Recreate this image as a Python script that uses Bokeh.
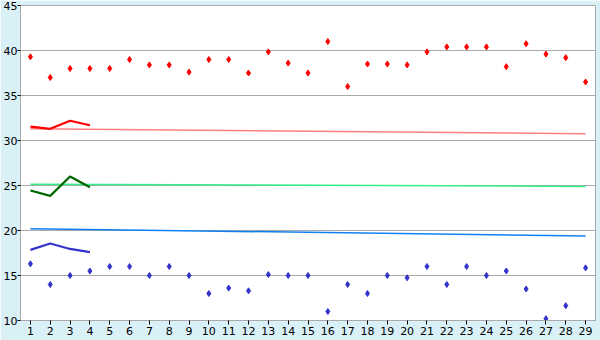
from bokeh.plotting import figure
from bokeh.models import FixedTicker, Range1d
from bokeh.embed import file_html
from bokeh.resources import INLINE

days = list(range(1, 30))

red_points = [39.3, 37.0, 38.0, 38.0, 38.0, 39.0, 38.4, 38.4, 37.6,
              39.0, 39.0, 37.5, 39.85, 38.6, 37.5, 41.0, 36.0, 38.5, 38.5,
              38.4, 39.85, 40.4, 40.4, 40.4, 38.2, 40.75, 39.6, 39.2, 36.5]
blue_points = [16.3, 14.0, 15.0, 15.5, 16.0, 16.0, 15.0, 16.0, 15.0,
               13.0, 13.6, 13.3, 15.1, 15.0, 15.0, 11.0, 14.0, 13.0, 15.0,
               14.75, 16.0, 14.0, 16.0, 15.0, 15.5, 13.5, 10.2, 11.65, 15.85]

short_days = [1, 2, 3, 4]
red_short = [31.55, 31.3, 32.2, 31.7]
green_short = [24.45, 23.85, 26.0, 24.8]
blue_short = [17.85, 18.55, 17.95, 17.6]

trend_days = [1, 29]
red_trend = [31.3, 30.75]
green_trend = [25.15, 24.9]
blue_trend = [20.2, 19.4]

y_ticks = [10, 15, 20, 25, 30, 35, 40, 45]

p = figure(width=600, height=340, output_backend="svg", toolbar_location=None,
           x_range=Range1d(0.5, 29.5), y_range=Range1d(10, 45))
p.background_fill_color = "white"
p.border_fill_color = "#D8F0F6"
p.outline_line_color = "#AAAAAA"
p.min_border_left = 20
p.min_border_right = 5
p.min_border_top = 5
p.min_border_bottom = 20

p.xgrid.visible = False
p.ygrid.grid_line_color = "#AAAAAA"
p.ygrid.ticker = FixedTicker(ticks=y_ticks)

for ax in (p.xaxis, p.yaxis):
    ax.axis_line_color = "#AAAAAA"
    ax.major_tick_line_color = "black"
    ax.minor_tick_line_color = None
    ax.major_tick_in = 0
    ax.major_label_text_font = "DejaVu Sans"
    ax.major_label_text_font_size = "11px"
    ax.major_label_text_color = "black"

p.xaxis.ticker = FixedTicker(ticks=days)
p.xaxis.major_tick_out = 4
p.xaxis.major_label_standoff = 2
p.yaxis.ticker = FixedTicker(ticks=y_ticks)
p.yaxis.major_tick_out = 3
p.yaxis.major_label_standoff = 0

p.line(trend_days, red_trend, line_color="#FF8080", line_width=1.5)
p.line(trend_days, green_trend, line_color="#33EE88", line_width=1.5)
p.line(trend_days, blue_trend, line_color="#1080F0", line_width=1.5)

p.line(short_days, red_short, line_color="#FF0000", line_width=2.2)
p.line(short_days, green_short, line_color="#006600", line_width=2.2)
p.line(short_days, blue_short, line_color="#3333CC", line_width=2.2)

p.scatter(days, red_points, marker="diamond", size=6, fill_color="#FF0000",
          line_color="#FF0000")
p.scatter(days, blue_points, marker="diamond", size=6, fill_color="#3333CC",
          line_color="#3333CC")

open("out.html", "w").write(file_html(p, INLINE))
